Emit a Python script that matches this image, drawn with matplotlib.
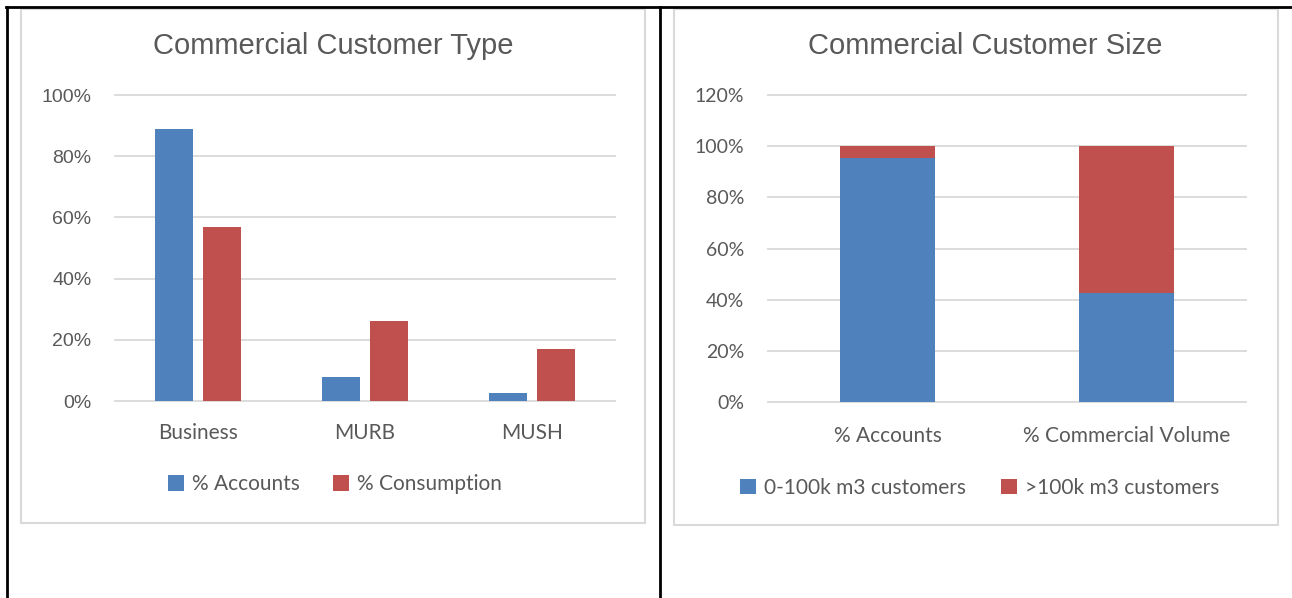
import numpy as np
import matplotlib.pyplot as plt
from matplotlib.patches import Rectangle
from matplotlib.lines import Line2D
from matplotlib.ticker import PercentFormatter

# customer type split
type_labels = ['Business', 'MURB', 'MUSH']
type_accounts = [0.89, 0.08, 0.025]
type_consumption = [0.57, 0.26, 0.17]

# customer size split
size_labels = ['% Accounts', '% Commercial Volume']
size_small = [0.955, 0.425]
size_large = [0.045, 0.575]

blue = '#4f81bd'
red = '#c0504d'
grey_txt = '#595959'
grid_col = '#d9d9d9'

W, H = 1292, 598
fig = plt.figure(figsize=(W / 100, H / 100), dpi=100)


def px_axes(x0, y0, x1, y1):
    # pixel box (top-left origin) -> figure axes
    return fig.add_axes([x0 / W, 1 - y1 / H, (x1 - x0) / W, (y1 - y0) / H])


def frame(x0, y0, x1, y1, title, tx):
    fig.patches.append(Rectangle((x0 / W, 1 - y1 / H), (x1 - x0) / W, (y1 - y0) / H,
                                 transform=fig.transFigure, facecolor='none',
                                 edgecolor=grid_col, linewidth=1.5, zorder=-1))
    fig.text(tx / W, 1 - 46 / H, title, ha='center', va='center',
             fontsize=21, color=grey_txt, family='Liberation Sans')


def style(ax, ymax, step):
    ax.set_ylim(0, ymax)
    ax.set_yticks(np.arange(0, ymax + 1e-9, step))
    for y in np.arange(0, ymax + 1e-9, step):
        ax.axhline(y, color=grid_col, linewidth=1.3, zorder=0, clip_on=False)
    ax.yaxis.set_major_formatter(PercentFormatter(1.0, decimals=0))
    for s in ax.spines.values():
        s.set_visible(False)
    ax.tick_params(length=0, colors=grey_txt)
    ax.set_facecolor('none')


# table borders
fig.add_artist(Line2D([6 / W, 1], [1 - 7 / H, 1 - 7 / H], color='black', linewidth=2, transform=fig.transFigure))
fig.add_artist(Line2D([7 / W, 7 / W], [0, 1 - 7 / H], color='black', linewidth=2, transform=fig.transFigure))
fig.add_artist(Line2D([660 / W, 660 / W], [0, 1 - 7 / H], color='black', linewidth=2, transform=fig.transFigure))

# left chart: customer type
frame(21, 9, 645, 523, 'Commercial Customer Type', 333)
ax1 = px_axes(115, 95, 615, 401)
x = np.arange(len(type_labels))
w = 0.228
ax1.bar(x - 0.144, type_accounts, w, color=blue, label='% Accounts', zorder=2)
ax1.bar(x + 0.144, type_consumption, w, color=red, label='% Consumption', zorder=2)
ax1.set_xlim(-0.5, len(type_labels) - 0.5)
style(ax1, 1.0, 0.2)
ax1.set_xticks(x)
ax1.set_xticklabels(type_labels, fontsize=15, family='Lato')
ax1.tick_params(axis='x', pad=16)
ax1.tick_params(axis='y', pad=17)
for t in ax1.get_yticklabels():
    t.set_fontsize(14)
    t.set_family('Liberation Sans')
ax1.legend(loc='center', bbox_to_anchor=(0.44, -0.272), ncol=2, frameon=False,
           prop={'family': 'Lato', 'size': 15}, labelcolor=grey_txt,
           handlelength=0.75, handleheight=0.75, handletextpad=0.4, columnspacing=1.6)

# right chart: customer size
frame(674, 9, 1278, 525, 'Commercial Customer Size', 985)
ax2 = px_axes(768, 95, 1246, 402)
x2 = np.arange(len(size_labels))
ax2.bar(x2, size_small, 0.4, color=blue, label='0-100k m3 customers', zorder=2)
ax2.bar(x2, size_large, 0.4, bottom=size_small, color=red, label='>100k m3 customers', zorder=2)
ax2.set_xlim(-0.5, len(size_labels) - 0.5)
style(ax2, 1.2, 0.2)
ax2.set_xticks(x2)
ax2.set_xticklabels(size_labels, fontsize=15, family='Lato')
ax2.tick_params(axis='x', pad=17)
ax2.tick_params(axis='y', pad=17)
for t in ax2.get_yticklabels():
    t.set_fontsize(14)
    t.set_family('Lato')
ax2.legend(loc='center', bbox_to_anchor=(0.443, -0.28), ncol=2, frameon=False,
           prop={'family': 'Lato', 'size': 15}, labelcolor=grey_txt,
           handlelength=0.75, handleheight=0.75, handletextpad=0.4, columnspacing=1.7)

fig.savefig('out.png', dpi=100, facecolor='white')
